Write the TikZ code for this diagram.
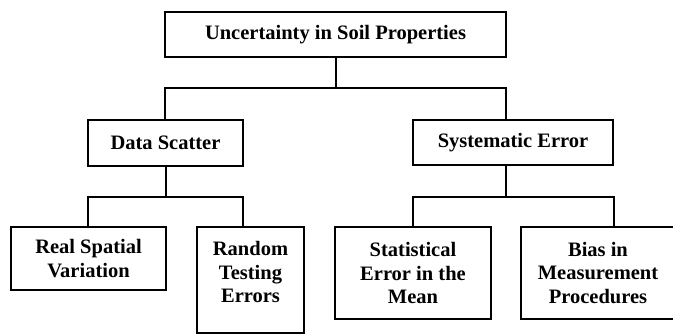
\documentclass[tikz,border=0pt]{standalone}
\usepackage{fontspec}
\setmainfont{Liberation Serif}
\begin{document}
\begin{tikzpicture}[x=1pt,y=-1pt,
  box/.style={draw,line width=2pt,rectangle,inner sep=0pt,align=center,
    font=\fontsize{20.5}{23.3}\selectfont\bfseries},
  txt/.style={inner sep=0pt,align=center,font=\fontsize{20.5}{23.3}\selectfont\bfseries},
  conn/.style={line width=2pt,line cap=rect}]
\useasboundingbox (0,0) rectangle (673,335);
\node[box,minimum width=341,minimum height=45] (top) at (335.5,34.5) {Uncertainty in Soil Properties};
\node[box,minimum width=155,minimum height=46] (ds) at (165.5,143) {Data Scatter};
\node[box,minimum width=200,minimum height=45] (se) at (513,142.5) {Systematic Error};
\node[box,minimum width=155,minimum height=63] (real) at (88.5,258.5) {Real Spatial\\Variation};
\node[box,minimum width=107,minimum height=106] (rand) at (250.5,280) {};
\node[txt] (randt) at (250.5,272) {Random\\Testing\\Errors};
\node[box,minimum width=156,minimum height=92] (stat) at (413,273) {Statistical\\Error in the\\Mean};
\node[box,minimum width=154,minimum height=92] (bias) at (598,273) {Bias in\\Measurement\\Procedures};
\coordinate (b1l) at (165,88);
\coordinate (b1r) at (506,88);
\coordinate (b2l) at (88,197);
\coordinate (b2r) at (243,197);
\coordinate (b3l) at (413,197);
\coordinate (b3r) at (614,197);
\coordinate (s3) at (506,197);
\draw[conn] (top.south) -- (top.south |- b1l);
\draw[conn] (ds.north -| b1l) -- (b1l) -- (b1r) -- (b1r |- se.north);
\draw[conn] (ds.south) -- (ds.south |- b2l);
\draw[conn] (real.north -| b2l) -- (b2l) -- (b2r) -- (b2r |- rand.north);
\draw[conn] (s3 |- se.south) -- (s3);
\draw[conn] (b3l |- stat.north) -- (b3l) -- (b3r) -- (b3r |- bias.north);
\end{tikzpicture}
\end{document}
